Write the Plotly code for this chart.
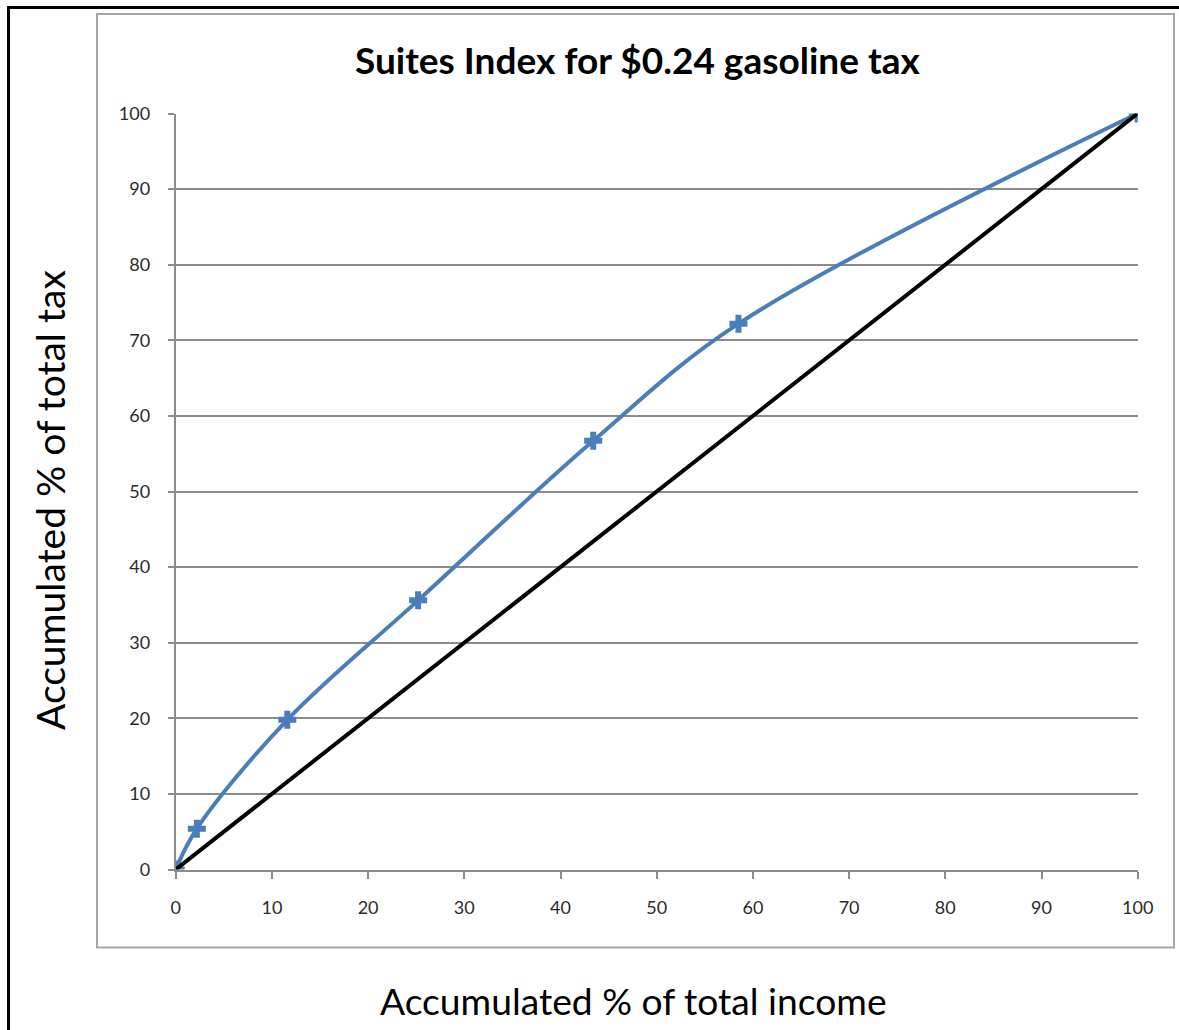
import plotly.graph_objects as go

# Cumulative shares (percent) by income group
income_share = [0, 2.2, 11.6, 25.2, 43.4, 58.5, 100]
tax_share = [0, 5.4, 19.8, 35.6, 56.7, 72.2, 100]
equality_line = [0, 2.2, 11.6, 25.2, 43.4, 58.5, 100]

tick_vals = [0, 10, 20, 30, 40, 50, 60, 70, 80, 90, 100]
tick_text = [str(v) for v in tick_vals]

W, H = 1179, 1030
px = lambda v: v / W
py = lambda v: 1 - v / H

fig = go.Figure()

fig.add_trace(go.Scatter(
    x=income_share, y=tax_share, mode="lines+markers",
    line=dict(color="#4A7EBB", width=4, shape="spline", smoothing=1.0),
    marker=dict(symbol="cross", size=15, color="#4A7EBB",
                line=dict(width=0)),
    showlegend=False,
))
fig.add_trace(go.Scatter(
    x=income_share, y=equality_line, mode="lines",
    line=dict(color="#000000", width=4),
    showlegend=False,
))

grid = "#8C8C8C"
tick_font = dict(family="Lato", size=18, color="#2B2B2B")

fig.update_xaxes(
    domain=[px(175.7), px(1137.7)], range=[0, 100],
    tickvals=tick_vals, ticktext=tick_text,
    showgrid=False, zeroline=False, automargin=False,
    showline=True, linecolor=grid, linewidth=2,
    ticks="outside", ticklen=7, tickwidth=2, tickcolor=grid,
    tickfont=tick_font, ticklabelstandoff=14,
)
fig.update_yaxes(
    domain=[py(869.5), py(113.5)], range=[0, 100],
    tickvals=tick_vals, ticktext=tick_text,
    showgrid=True, gridcolor=grid, gridwidth=2, zeroline=False,
    automargin=False,
    showline=True, linecolor=grid, linewidth=2,
    ticks="outside", ticklen=6, tickwidth=2, tickcolor=grid,
    tickfont=tick_font, ticklabelstandoff=14,
)

shapes = [
    # outer page border: left and top edges
    dict(type="line", xref="paper", yref="paper",
         x0=px(8.5), x1=px(8.5), y0=0, y1=py(6),
         line=dict(color="#000000", width=3), layer="below"),
    dict(type="line", xref="paper", yref="paper",
         x0=px(7), x1=1, y0=py(7.5), y1=py(7.5),
         line=dict(color="#000000", width=3), layer="below"),
    # chart frame
    dict(type="rect", xref="paper", yref="paper",
         x0=px(97), x1=px(1174), y0=py(947.5), y1=py(14),
         line=dict(color="#A6A6A6", width=2), layer="below"),
]

annotations = [
    dict(text="<b>Suites Index for $0.24 gasoline tax</b>",
         xref="paper", yref="paper", x=px(637), y=py(59),
         xanchor="center", yanchor="middle", showarrow=False,
         font=dict(family="Lato", size=37, color="#000000")),
    dict(text="Accumulated % of total income",
         xref="paper", yref="paper", x=px(633), y=py(1000),
         xanchor="center", yanchor="middle", showarrow=False,
         font=dict(family="Lato", size=37.2, color="#000000")),
    dict(text="Accumulated % of total tax",
         xref="paper", yref="paper", x=px(50), y=py(500),
         xanchor="center", yanchor="middle", showarrow=False, textangle=-90,
         font=dict(family="Lato", size=39, color="#000000")),
]

fig.update_layout(
    width=W, height=H,
    margin=dict(l=0, r=0, t=0, b=0, autoexpand=False),
    paper_bgcolor="#FFFFFF", plot_bgcolor="#FFFFFF",
    shapes=shapes, annotations=annotations,
)

fig.write_html("out.html")
